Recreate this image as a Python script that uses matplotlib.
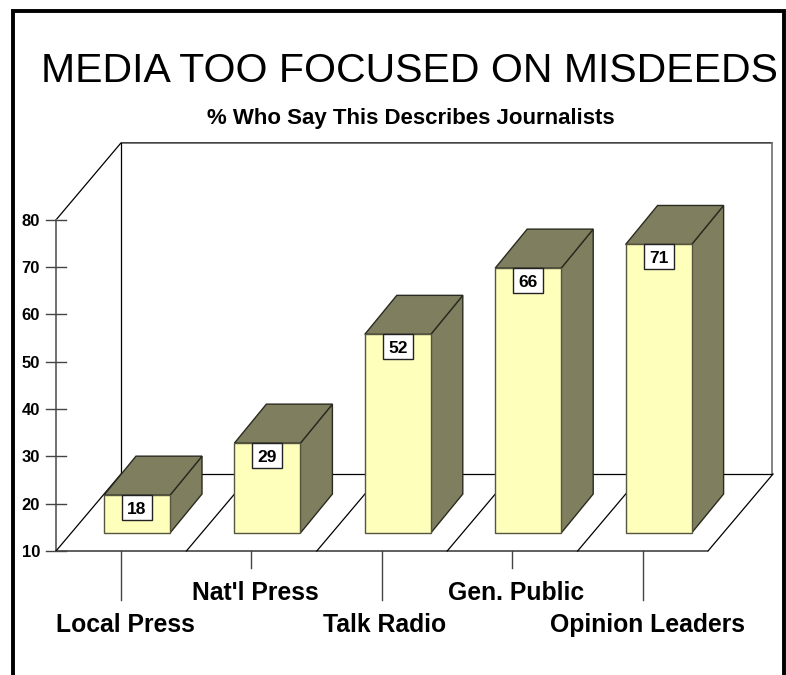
import matplotlib.pyplot as plt
from matplotlib.patches import Polygon, Rectangle

categories = ["Local Press", "Nat'l Press", "Talk Radio", "Gen. Public", "Opinion Leaders"]
values = [18, 29, 52, 66, 71]
yticks = [10, 20, 30, 40, 50, 60, 70, 80]

title = 'MEDIA TOO FOCUSED ON MISDEEDS'
subtitle = '% Who Say This Describes Journalists'

plt.rcParams['font.family'] = ['Liberation Sans', 'DejaVu Sans']

# x runs in category units, y in percent, figure is filled by one axes
px_x = 130.4
px_y = 4.73
x0 = 137.0
y0 = 551.0


def xpx(p):
    return (p - x0) / px_x


def ypx(p):
    return 10 + (y0 - p) / px_y


fig = plt.figure(figsize=(7.86, 6.75), dpi=100)
ax = fig.add_axes([0, 0, 1, 1])
ax.set_xlim(xpx(0), xpx(786))
ax.set_ylim(ypx(675), ypx(0))
ax.axis('off')

grey = '#707070'
front_col = '#ffffbc'
side_col = '#7f7f60'
edge = '#2a2a20'

# outer frame, open at the bottom
ax.plot([xpx(13), xpx(13), xpx(784), xpx(784)],
        [ypx(675), ypx(10.7), ypx(10.7), ypx(675)], color='black', lw=2.8, solid_joinstyle='miter')

# walls and floor of the box
wall_dx = 65 / px_x
wall_dy = 77 / px_y
left = xpx(56)
right = xpx(707)
ax.plot([left, left + wall_dx, right + wall_dx], [80, 80 + wall_dy, 80 + wall_dy], color='black', lw=0.9)
ax.plot([left + wall_dx, left + wall_dx], [80 + wall_dy, 10 + wall_dy], color='black', lw=0.9)
ax.plot([right + wall_dx, right + wall_dx], [80 + wall_dy, 10 + wall_dy], color=grey, lw=1.2)
ax.plot([left + wall_dx, right + wall_dx], [10 + wall_dy, 10 + wall_dy], color='black', lw=0.9)
ax.plot([left, left], [10, 80], color=grey, lw=1.4)
ax.plot([left, right], [10, 10], color='#444444', lw=1.2)

# floor dividers, one per category
for i in range(len(categories) + 1):
    xs = left + i
    ax.plot([xs, xs + wall_dx], [10, 10 + wall_dy], color='black', lw=0.9)

for t in yticks:
    ax.plot([xpx(46), xpx(66)], [t, t], color='#444444', lw=1)
    ax.text(xpx(40), t - 6 / px_y, str(t), ha='right', va='baseline', fontsize=12,
            fontweight='bold', color='black')

# drop lines under the floor, every other one longer
for i in range(len(categories)):
    xt = i - 16 / px_x
    low = 600 if i % 2 == 0 else 568
    ax.plot([xt, xt], [10, ypx(low)], color='#444444', lw=1)

# the bars sit a little way back on the floor
base_shift = 18 / px_y
half = 33 / px_x
depth_x = 32 / px_x
depth_y = 39 / px_y
for i, v in enumerate(values):
    top = v + base_shift
    bottom = 10 + base_shift
    ax.add_patch(Polygon([(i + half, bottom), (i + half + depth_x, bottom + depth_y),
                          (i + half + depth_x, top + depth_y), (i + half, top)],
                         facecolor=side_col, edgecolor=edge, lw=1, zorder=3))
    ax.add_patch(Polygon([(i - half, top), (i + half, top),
                          (i + half + depth_x, top + depth_y), (i - half + depth_x, top + depth_y)],
                         facecolor=side_col, edgecolor=edge, lw=1, zorder=3))
    ax.add_patch(Rectangle((i - half, bottom), 2 * half, top - bottom,
                           facecolor=front_col, edgecolor='#555540', lw=1, zorder=3))
    # value tag hangs from the top edge
    tw = 15 / px_x
    th = 25 / px_y
    ax.add_patch(Rectangle((i - tw, top - th), 2 * tw, th,
                           facecolor='white', edgecolor='#222222', lw=1, zorder=4))
    ax.text(i, top - 19 / px_y, str(v), ha='center', va='baseline', fontsize=12.5,
            fontweight='bold', color='black', zorder=5)

label_x = [125, 255, 385, 516, 648]
label_y = [632, 600, 632, 600, 632]
for name, lx, ly in zip(categories, label_x, label_y):
    ax.text(xpx(lx), ypx(ly), name, ha='center', va='baseline', fontsize=17.8,
            fontweight='bold', color='black')

ax.text(xpx(409), ypx(82), title, ha='center', va='baseline', fontsize=29.5, color='black')
ax.text(xpx(411), ypx(124), subtitle, ha='center', va='baseline', fontsize=16, fontweight='bold', color='black')

plt.savefig('out.png', dpi=100)
plt.close()
